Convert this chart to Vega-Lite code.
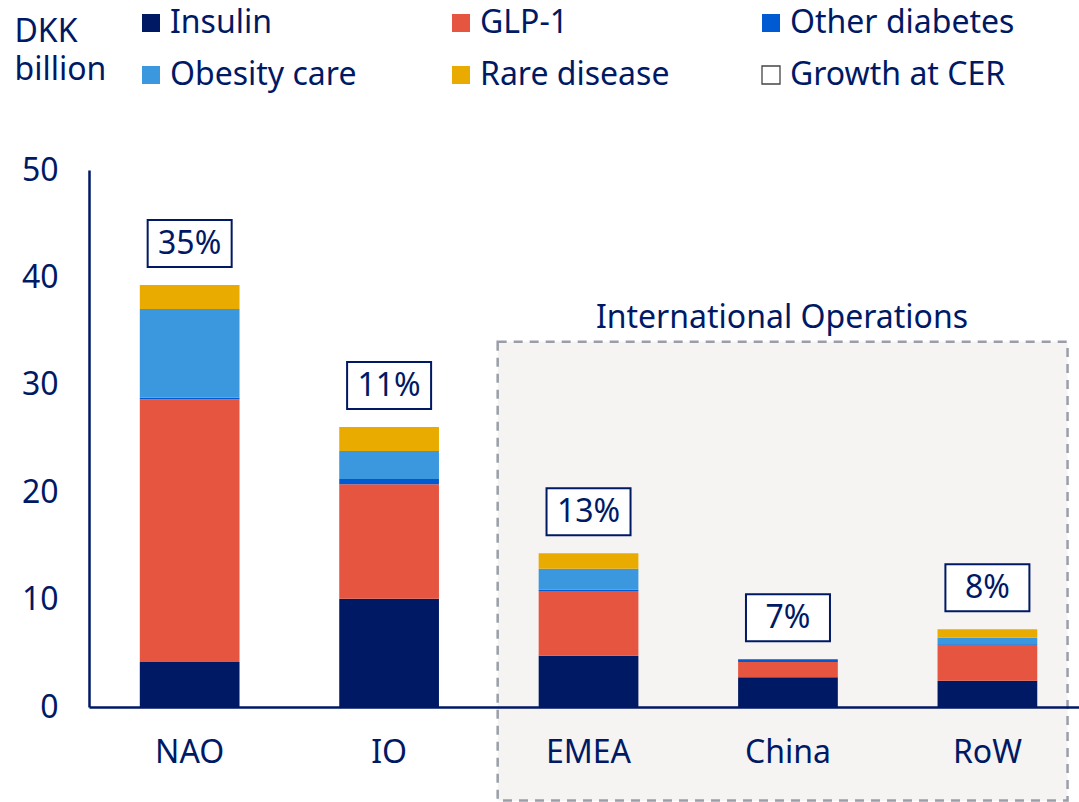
{
  "$schema": "https://vega.github.io/schema/vega-lite/v6.json",
  "width": 990,
  "height": 537,
  "autosize": {"type": "none"},
  "padding": {"left": 89, "top": 170, "right": 0, "bottom": 95},
  "background": "white",
  "config": {"font": "Noto Sans", "view": {"stroke": null}},
  "datasets": {
    "sales": [
      {"region": "NAO", "segment": "Insulin", "k": 1, "value": 4.2},
      {"region": "NAO", "segment": "GLP-1", "k": 2, "value": 24.45},
      {"region": "NAO", "segment": "Other diabetes", "k": 3, "value": 0.15},
      {"region": "NAO", "segment": "Obesity care", "k": 4, "value": 8.25},
      {"region": "NAO", "segment": "Rare disease", "k": 5, "value": 2.25},
      {"region": "IO", "segment": "Insulin", "k": 1, "value": 10.08},
      {"region": "IO", "segment": "GLP-1", "k": 2, "value": 10.65},
      {"region": "IO", "segment": "Other diabetes", "k": 3, "value": 0.5},
      {"region": "IO", "segment": "Obesity care", "k": 4, "value": 2.61},
      {"region": "IO", "segment": "Rare disease", "k": 5, "value": 2.23},
      {"region": "EMEA", "segment": "Insulin", "k": 1, "value": 4.78},
      {"region": "EMEA", "segment": "GLP-1", "k": 2, "value": 6.02},
      {"region": "EMEA", "segment": "Other diabetes", "k": 3, "value": 0.12},
      {"region": "EMEA", "segment": "Obesity care", "k": 4, "value": 1.96},
      {"region": "EMEA", "segment": "Rare disease", "k": 5, "value": 1.43},
      {"region": "China", "segment": "Insulin", "k": 1, "value": 2.77},
      {"region": "China", "segment": "GLP-1", "k": 2, "value": 1.42},
      {"region": "China", "segment": "Other diabetes", "k": 3, "value": 0.25},
      {"region": "RoW", "segment": "Insulin", "k": 1, "value": 2.45},
      {"region": "RoW", "segment": "GLP-1", "k": 2, "value": 3.32},
      {"region": "RoW", "segment": "Other diabetes", "k": 3, "value": 0.07},
      {"region": "RoW", "segment": "Obesity care", "k": 4, "value": 0.61},
      {"region": "RoW", "segment": "Rare disease", "k": 5, "value": 0.78}
    ],
    "growth": [
      {"region": "NAO", "growth": "35%"},
      {"region": "IO", "growth": "11%"},
      {"region": "EMEA", "growth": "13%"},
      {"region": "China", "growth": "7%"},
      {"region": "RoW", "growth": "8%"}
    ],
    "io": [
      {"from": "EMEA", "to": "RoW", "mid": "China", "top": 34, "bottom": -8.7, "label": "International Operations"}
    ]
  },
  "layer": [
    {
      "data": {"name": "io"},
      "mark": {"type": "rect", "fill": "#f5f4f2", "stroke": "#9a9ea8", "strokeWidth": 2.5, "strokeDash": [9, 7], "xOffset": -41, "x2Offset": 130},
      "encoding": {
        "x": {"field": "from", "type": "nominal", "bandPosition": 0},
        "x2": {"field": "to", "bandPosition": 0},
        "y": {"field": "top", "type": "quantitative"},
        "y2": {"field": "bottom"}
      }
    },
    {
      "data": {"name": "io"},
      "mark": {"type": "text", "fontSize": 32, "color": "#001965", "baseline": "middle", "align": "center", "xOffset": -6, "yOffset": -24},
      "encoding": {
        "x": {"field": "mid", "type": "nominal"},
        "y": {"field": "top", "type": "quantitative"},
        "text": {"field": "label"}
      }
    },
    {
      "data": {"name": "sales"},
      "mark": {"type": "bar", "width": {"band": 1}},
      "encoding": {
        "x": {
          "field": "region", "type": "nominal", "title": null,
          "scale": {"domain": ["NAO", "IO", "EMEA", "China", "RoW"], "paddingInner": 0.5, "paddingOuter": 0.232, "align": 0.549},
          "axis": {"title": null, "bandPosition": 0.5, "ticks": false, "labelAngle": 0, "labelAlign": "center", "labelFontSize": 32, "labelColor": "#001965", "labelPadding": 45, "domainColor": "#001965", "domainWidth": 2.5, "zindex": 1}
        },
        "y": {
          "aggregate": "sum", "field": "value", "type": "quantitative", "title": ["DKK", "billion"],
          "scale": {"domain": [0, 50], "nice": false},
          "axis": {"values": [0, 10, 20, 30, 40, 50], "ticks": false, "grid": false, "labelFontSize": 32, "labelColor": "#001965", "labelPadding": 31, "domainColor": "#001965", "domainWidth": 2.5,
            "title": ["DKK", "billion"], "titleAngle": 0, "titleAlign": "left", "titleBaseline": "alphabetic", "titleX": -75, "titleY": -129, "titleFontSize": 32, "titleFontWeight": "normal", "titleColor": "#001965", "titleLineHeight": 38}
        },
        "color": {
          "field": "segment", "type": "nominal",
          "scale": {
            "domain": ["Insulin", "GLP-1", "Other diabetes", "Obesity care", "Rare disease", "Growth at CER"],
            "range": ["#001965", "#e65540", "#005ad2", "#3b97de", "#eaab00", "#ffffff"]
          },
          "legend": {
            "orient": "none", "legendX": 46, "legendY": -163, "direction": "horizontal", "columns": 3, "gridAlign": "all", "columnPadding": 50, "rowPadding": 20,
            "symbolType": "square", "symbolSize": 324, "labelFontSize": 32, "labelLimit": 500, "labelColor": "#001965", "labelOffset": 3, "title": null,
            "encode": {"symbols": {"update": {"stroke": {"signal": "datum.value === 'Growth at CER' ? '#444444' : 'transparent'"}, "strokeWidth": {"value": 1.3}}}}
          }
        },
        "order": {"field": "k", "type": "quantitative"}
      }
    },
    {
      "data": {"name": "sales"},
      "transform": [
        {"aggregate": [{"op": "sum", "field": "value", "as": "total"}], "groupby": ["region"]},
        {"lookup": "region", "from": {"data": {"name": "growth"}, "key": "region", "fields": ["growth"]}}
      ],
      "layer": [
        {
          "mark": {"type": "bar", "fill": "#ffffff", "stroke": "#001965", "strokeWidth": 2, "width": 84, "yOffset": -18, "y2Offset": -65},
          "encoding": {
            "x": {"field": "region", "type": "nominal"},
            "y": {"field": "total", "type": "quantitative"},
            "y2": {"field": "total"}
          }
        },
        {
          "mark": {"type": "text", "fontSize": 32, "color": "#001965", "baseline": "middle", "align": "center", "yOffset": -41},
          "encoding": {
            "x": {"field": "region", "type": "nominal"},
            "y": {"field": "total", "type": "quantitative"},
            "text": {"field": "growth"}
          }
        }
      ]
    }
  ]
}
